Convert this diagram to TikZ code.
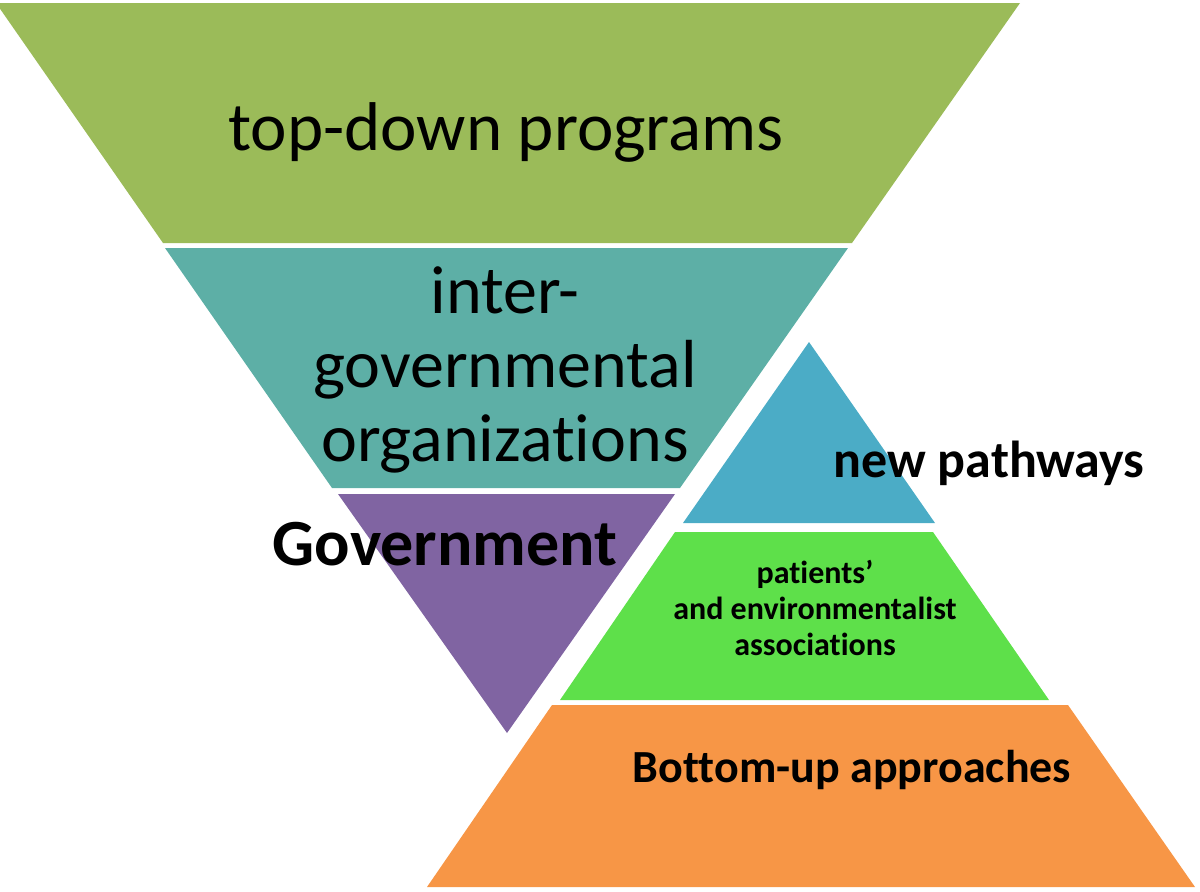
\documentclass[tikz,border=0pt]{standalone}
\usepackage{fontspec}
\setmainfont{Carlito}[RawFeature=-liga]
\definecolor{cTop}{HTML}{9BBB59}
\definecolor{cTeal}{HTML}{5DAFA6}
\definecolor{cPurple}{HTML}{8064A2}
\definecolor{cBlue}{HTML}{4BACC6}
\definecolor{cLime}{HTML}{5EE04A}
\definecolor{cOrange}{HTML}{F79646}
\begin{document}
\begin{tikzpicture}[x=0.5pt,y=-0.5pt,
  lbl/.style={inner sep=0pt,outer sep=0pt,text=black,align=center,anchor=base}]
\useasboundingbox (0,0) rectangle (1200,891);
% inverted pyramid
\fill[cTop] (-4,3) -- (1020,3) -- (852,243) -- (163,243) -- cycle;
\fill[cTeal] (165,248) -- (848,248) -- (680,488) -- (332,488) -- cycle;
\fill[cPurple] (338,494) -- (675,494) -- (507,733) -- cycle;
% upright pyramid
\fill[cBlue] (809,342) -- (935,523) -- (683,523) -- cycle;
\fill[cLime] (675,532) -- (933,532) -- (1049,700) -- (560,700) -- cycle;
\fill[cOrange] (552,705) -- (1068,705) -- (1195,887) -- (427,887) -- cycle;
% labels (base anchor = baseline of the last line)
\node[lbl,font=\fontsize{34.5}{37}\selectfont] (topdown) at (506,150) {top-down programs};
\node[lbl,font=\fontsize{34}{37}\selectfont] (igo) at (505,461) {inter-\\governmental\\organizations};
\node[lbl,font=\fontsize{33}{36}\selectfont\bfseries] (gov) at (445,565) {Government};
\node[lbl,font=\fontsize{26}{28}\selectfont\bfseries] (newpath) at (989,477) {new pathways};
\node[lbl,font=\fontsize{16}{18}\selectfont\bfseries] (assoc) at (815,655) {patients’\\and environmentalist\\associations};
\node[lbl,font=\fontsize{23}{26}\selectfont\bfseries] (bottomup) at (852,782) {Bottom-up approaches};
\end{tikzpicture}
\end{document}
